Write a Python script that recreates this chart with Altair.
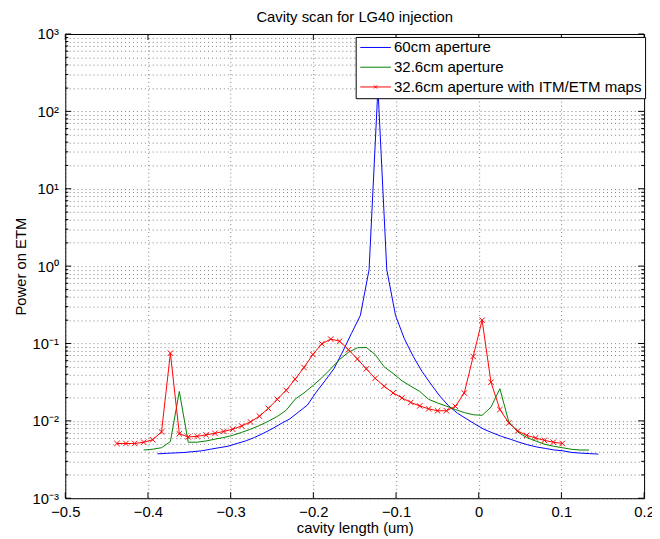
import altair as alt
import pandas as pd

# ---- data ----
blue_x = [-0.3885, -0.3778, -0.3672, -0.3565, -0.3458, -0.3352, -0.3245, -0.3139, -0.3032, -0.2925,
          -0.2819, -0.2712, -0.2605, -0.2499, -0.2392, -0.2285, -0.2179, -0.2072, -0.1965, -0.1859,
          -0.1752, -0.1646, -0.1539, -0.1432, -0.1326, -0.1219, -0.1112, -0.1006, -0.0899, -0.0792,
          -0.0686, -0.0579, -0.0472, -0.0366, -0.0259, -0.0153, -0.0046, 0.0061, 0.0167, 0.0274,
          0.0381, 0.0487, 0.0594, 0.0701, 0.0807, 0.0914, 0.1021, 0.1127, 0.1234, 0.1341, 0.1447]
blue_y = [0.00375, 0.0038, 0.00385, 0.0039, 0.0040, 0.0041, 0.0043, 0.0045, 0.0047, 0.0051,
          0.0055, 0.0061, 0.0069, 0.0079, 0.0092, 0.0106, 0.0130, 0.0160, 0.0235, 0.033,
          0.047, 0.078, 0.135, 0.23, 0.9, 200.0, 0.9, 0.23, 0.115, 0.068,
          0.0435, 0.030, 0.021, 0.0157, 0.0126, 0.0107, 0.0091, 0.0078, 0.0070, 0.0063,
          0.0058, 0.0053, 0.0049, 0.0046, 0.0044, 0.0042, 0.0041, 0.0039, 0.00383, 0.00377, 0.00372]

grid_x = [-0.4375, -0.4267, -0.4160, -0.4052, -0.3944, -0.3836, -0.3729, -0.3621, -0.3513, -0.3406,
          -0.3298, -0.3190, -0.3083, -0.2975, -0.2867, -0.2760, -0.2652, -0.2544, -0.2436, -0.2329,
          -0.2221, -0.2113, -0.2006, -0.1898, -0.1790, -0.1683, -0.1575, -0.1467, -0.1359, -0.1252,
          -0.1144, -0.1036, -0.0929, -0.0821, -0.0713, -0.0606, -0.0498, -0.0390, -0.0282, -0.0175,
          -0.0067, 0.0041, 0.0148, 0.0256, 0.0364, 0.0471, 0.0579, 0.0687, 0.0794, 0.0902,
          0.1010, 0.1117, 0.1225, 0.1333]

green_x = grid_x[3:54]
green_y = [0.0042, 0.0043, 0.0045, 0.0054, 0.024, 0.0053, 0.0053, 0.0055, 0.0058, 0.0061,
           0.0065, 0.0071, 0.0078, 0.0087, 0.0099, 0.0114, 0.0137, 0.019, 0.023, 0.0285,
           0.036, 0.047, 0.062, 0.077, 0.088, 0.089, 0.072, 0.050, 0.041, 0.033,
           0.028, 0.024, 0.019, 0.017, 0.0155, 0.0140, 0.0128, 0.0120, 0.0118, 0.015,
           0.026, 0.0097, 0.0072, 0.0061, 0.0055, 0.0050, 0.0047, 0.0045, 0.0043, 0.0042, 0.0042]

red_x = grid_x[0:51]
red_y = [0.0051, 0.0051, 0.0051, 0.0053, 0.0057, 0.0072, 0.075, 0.0068, 0.0062, 0.0063,
         0.0066, 0.0069, 0.0073, 0.0078, 0.0086, 0.0097, 0.0115, 0.0145, 0.0190, 0.0248,
         0.0345, 0.049, 0.072, 0.099, 0.114, 0.107, 0.083, 0.063, 0.047, 0.0355,
         0.028, 0.023, 0.0198, 0.0173, 0.0156, 0.0143, 0.0135, 0.0135, 0.0154, 0.0229,
         0.068, 0.20, 0.0316, 0.014, 0.0094, 0.0074, 0.0065, 0.0060, 0.0056, 0.0053, 0.0051]

series_names = ["60cm aperture", "32.6cm aperture", "32.6cm aperture with ITM/ETM maps"]
series_colors = ["#0000ff", "#008000", "#ff0000"]

x_ticks = [-0.5, -0.4, -0.3, -0.2, -0.1, 0.0, 0.1, 0.2]
y_major = [0.001, 0.01, 0.1, 1.0, 10.0, 100.0, 1000.0]
y_labels = ["10\u207b\u00b3", "10\u207b\u00b2", "10\u207b\u00b9", "10\u2070", "10\u00b9", "10\u00b2", "10\u00b3"]
y_minor = [m * d for d in [0.001, 0.01, 0.1, 1.0, 10.0, 100.0] for m in [2, 3, 4, 5, 6, 7, 8, 9]]

# ---- tables ----
rows = []
for name, xs, ys in zip(series_names, [blue_x, green_x, red_x], [blue_y, green_y, red_y]):
    for xv, yv in zip(xs, ys):
        rows.append({"series": name, "x": xv, "y": yv})
df = pd.DataFrame(rows)

W, H = 586, 470
FONT = "Liberation Sans"

xscale = alt.Scale(domain=[-0.5, 0.2], nice=False, zero=False)
yscale = alt.Scale(type="log", domain=[0.001, 1000], nice=False)
cscale = alt.Scale(domain=series_names, range=series_colors)

legend_line = "M-3.1,0H3.1"
legend_line_x = "M-3.1,0H3.1M-0.32,-0.32L0.32,0.32M-0.32,0.32L0.32,-0.32"
sscale = alt.Scale(domain=series_names, range=[legend_line, legend_line, legend_line_x])

label_expr = " : ".join(
    f"datum.value == {v} ? '{l}'" for v, l in zip(y_major, y_labels)
) + " : ''"

marker_path = "M-1,-1L1,1M-1,1L1,-1"

xaxis = alt.Axis(values=x_ticks, title="cavity length (um)", grid=True,
                 gridDash=[1, 3], gridColor="#000", gridOpacity=0.5,
                 ticks=False, domain=False, labelPadding=7, labelFlush=False,
                 labelExpr="format(datum.value, '.1~f')",
                 labelFontSize=15, titleFontSize=15, titleFontWeight="normal",
                 titlePadding=1, labelFont=FONT, titleFont=FONT, labelColor="#000",
                 titleColor="#000")
yaxis = alt.Axis(values=y_major + y_minor, title="Power on ETM", grid=True,
                 gridDash=[1, 3], gridColor="#000", gridOpacity=0.5,
                 ticks=False, domain=False, labelPadding=7, labelFlush=False,
                 labelExpr=label_expr,
                 labelOverlap=False, labelFontSize=15, titleFontSize=15,
                 titleFontWeight="normal", titlePadding=4, labelFont=FONT,
                 titleFont=FONT, labelColor="#000", titleColor="#000")

legend_def = alt.Legend(
    title=None, orient="none", legendX=294, legendY=3,
    strokeColor="#000", fillColor="#fff", padding=3,
    symbolSize=100, symbolStrokeWidth=1, symbolOpacity=1,
    symbolOffset=9.5, labelOffset=11, rowPadding=4, labelLimit=400,
    labelFontSize=15.25, labelFont=FONT, labelColor="#000")

X = alt.X("x:Q", scale=xscale, axis=xaxis)
Y = alt.Y("y:Q", scale=yscale, axis=yaxis)

# invisible proxy layer that only provides the legend (line / line+cross symbols)
legend_proxy = alt.Chart(df).mark_point(filled=False, opacity=0, size=100).encode(
    x=X, y=Y,
    color=alt.Color("series:N", scale=cscale, legend=legend_def),
    shape=alt.Shape("series:N", scale=sscale, legend=legend_def),
)

line_layers = []
for name, col in zip(series_names, series_colors):
    line_layers.append(
        alt.Chart(df).transform_filter(alt.datum.series == name)
        .mark_line(strokeWidth=1, clip=True, color=col)
        .encode(x=X, y=Y)
    )

markers = alt.Chart(df).transform_filter(alt.datum.series == series_names[2]).mark_point(
    shape=marker_path, size=30, filled=False, strokeWidth=1, color="#ff0000",
    opacity=1, clip=True).encode(x=X, y=Y)

# inward tick marks (MATLAB style)
xt = pd.DataFrame({"v": x_ticks})
ymaj = pd.DataFrame({"v": y_major})
ymin = pd.DataFrame({"v": y_minor})

def xtick(y0, y1):
    return alt.Chart(xt).mark_rule(color="#000", strokeWidth=1).encode(
        x=alt.X("v:Q", scale=xscale, axis=xaxis), y=alt.value(y0), y2=alt.value(y1))

def ytick(d, x0, x1):
    return alt.Chart(d).mark_rule(color="#000", strokeWidth=1).encode(
        y=alt.Y("v:Q", scale=yscale, axis=yaxis), x=alt.value(x0), x2=alt.value(x1))

ticks = [xtick(H, H - 6), xtick(0, 6),
         ytick(ymaj, 0, 6), ytick(ymaj, W, W - 6),
         ytick(ymin, 0, 3), ytick(ymin, W, W - 3)]

chart = alt.layer(legend_proxy, *line_layers, markers, *ticks).properties(
    width=W, height=H,
    background="#fff",
    title=alt.Title("Cavity scan for LG40 injection", fontSize=15, fontWeight="normal",
                    font=FONT, color="#000", offset=2, frame="group"),
    autosize=alt.AutoSizeParams(type="none"),
    padding={"left": 58, "top": 23, "right": 8, "bottom": 42},
).configure_view(stroke="#000", strokeWidth=1)

chart.save("out.html", embed_options={"renderer": "svg", "actions": False})
